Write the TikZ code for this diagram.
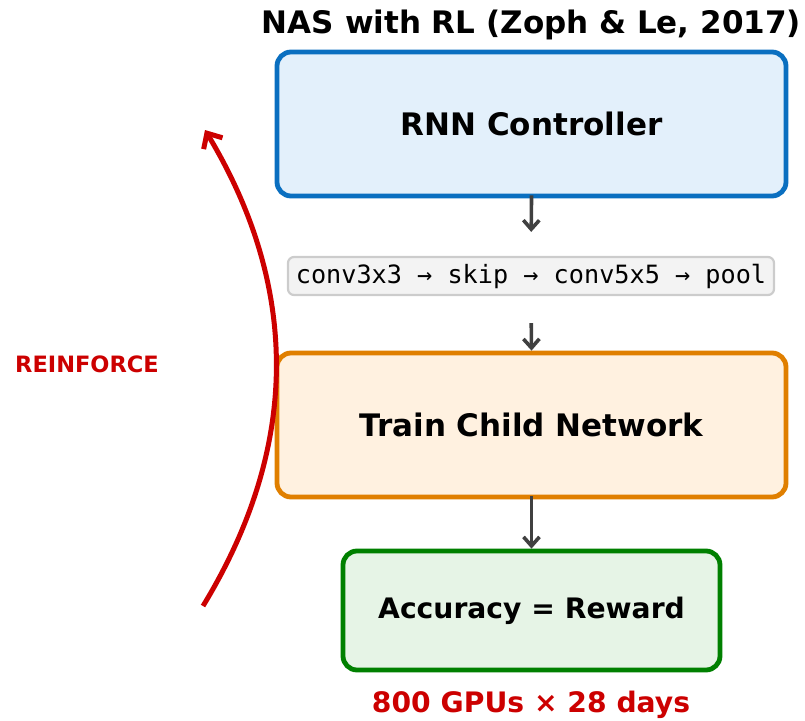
\documentclass[tikz,border=0pt]{standalone}
\usepackage{fontspec}
\setmainfont{DejaVu Sans}
\newfontfamily\codefont{DejaVu Sans Mono}
\usetikzlibrary{arrows.meta}
\definecolor{ctrlblue}{HTML}{0A6FC0}
\definecolor{ctrlfill}{HTML}{E3F0FB}
\definecolor{trainorange}{HTML}{E07F00}
\definecolor{trainfill}{HTML}{FFF1E0}
\definecolor{accgreen}{HTML}{008000}
\definecolor{accfill}{HTML}{E6F4E6}
\definecolor{seqfill}{HTML}{F3F3F3}
\definecolor{seqline}{HTML}{CCCCCC}
\definecolor{flowgray}{HTML}{404040}
\definecolor{rlred}{HTML}{CC0000}
\tikzset{
  stagebox/.style={rounded corners=14pt, line width=4.8pt, inner sep=0pt,
    font=\fontsize{31}{36}\selectfont\bfseries, align=center},
  seqbox/.style={rounded corners=6pt, line width=2.2pt, draw=seqline, fill=seqfill,
    minimum width=486pt, minimum height=38pt, inner sep=0pt,
    font=\codefont\fontsize{25.2}{30}\selectfont},
  flow/.style={draw=flowgray, line width=3.6pt,
    -{Straight Barb[length=9pt,width=16pt,line width=3.6pt]}},
  rlarrow/.style={draw=rlred, line width=5pt,
    -{Straight Barb[length=12pt,width=22pt,line width=5pt]}},
}
\begin{document}
\begin{tikzpicture}[x=1pt, y=-1pt]
  \useasboundingbox (0,0) rectangle (805,720);

  % title
  \node[font=\fontsize{31}{36}\selectfont\bfseries] (title) at (531.5,24.5) {NAS with RL (Zoph \& Le, 2017)};

  % pipeline stages
  \node[stagebox, draw=ctrlblue, fill=ctrlfill, minimum width=509pt, minimum height=144pt]
    (rnn) at (531.5,124) {RNN Controller};
  \node[seqbox] (seq) at (531,276) {conv3x3 → skip → conv5x5 → pool};
  \node[stagebox, draw=trainorange, fill=trainfill, minimum width=509pt, minimum height=144pt]
    (train) at (531.5,425) {Train Child Network};
  \node[stagebox, draw=accgreen, fill=accfill, minimum width=377pt, minimum height=119pt,
    font=\fontsize{28.2}{33}\selectfont\bfseries]
    (acc) at (531.5,610.5) {Accuracy = Reward};

  % flow between stages
  \draw[flow, shorten <=-3pt, shorten >=24pt] (rnn.south) -- (seq.north);
  \draw[flow, shorten <=27pt] (seq.south) -- (train.north);
  \draw[flow, shorten <=-3pt] (train.south) -- (acc.north);

  % cost note
  \node[text=rlred, font=\fontsize{28.2}{33}\selectfont\bfseries] (cost) at (531,705) {800 GPUs × 28 days};

  % REINFORCE feedback loop
  \coordinate (fbstart) at (203,606);
  \coordinate (fbend) at (205,130);
  \draw[rlarrow] (fbstart) .. controls (299.7,447.3) and (300.3,288.7) .. (fbend);
  \node[text=rlred, font=\fontsize{22.5}{27}\selectfont\bfseries] (reinforce) at (87,364) {REINFORCE};
\end{tikzpicture}
\end{document}
